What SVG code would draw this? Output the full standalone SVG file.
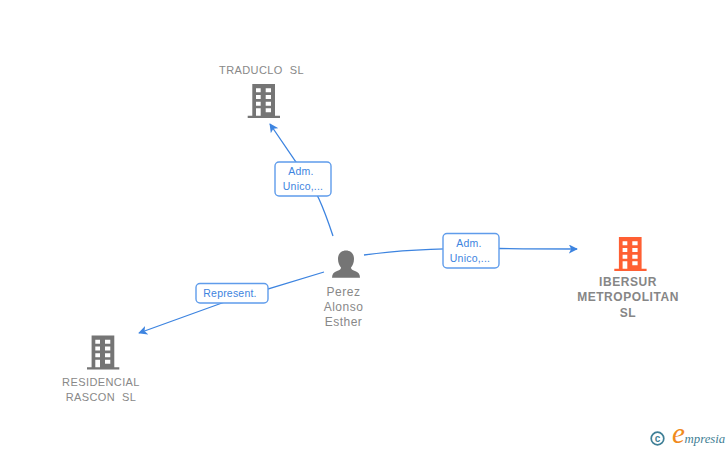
<svg xmlns="http://www.w3.org/2000/svg" width="728" height="450" viewBox="0 0 728 450">
<style>
text{font-family:"Liberation Sans",Arial,sans-serif}
.n{font-size:11px;fill:#888;text-anchor:middle;letter-spacing:.4px;white-space:pre}
.nb{font-size:12px;font-weight:bold;fill:#868686;text-anchor:middle;letter-spacing:.55px}
.p{font-size:12px;fill:#888;text-anchor:middle;letter-spacing:.5px}
.l{font-size:10.500px;fill:#3d84e0;text-anchor:middle;letter-spacing:.2px}
.e{fill:none;stroke:#3d84e0;stroke-width:1.300}
.b{fill:#fff;stroke:#5f9ceb;stroke-width:1.400}
.lg{font-family:"Liberation Serif",serif;font-style:italic}
</style>
<defs>
<marker id="a" viewBox="0 0 10 10" refX="9" refY="5" markerWidth="9" markerHeight="9" markerUnits="userSpaceOnUse" orient="auto"><path d="M0 0L10 5L0 10L2.500 5Z" fill="#3d84e0"/></marker>
<path id="bld" fill-rule="evenodd" d="M4.600 0H27.300V31.700H32.300V34H0V31.700H4.600ZM8.300 4.300V8.300H13V4.300ZM18 4.300V8.300H23.300V4.300ZM8.300 11V15H13V11ZM18 11V15H23.300V11ZM8.300 17.700V21.700H13V17.700ZM18 17.700V21.700H23.300V17.700ZM8.300 24.300V31.700H13V24.300ZM18 24.300V28.300H23.300V24.300Z"/>
</defs>
<rect width="728" height="450" fill="#fff"/>
<g id="connectors">
<path class="e" d="M333 236C325 212 316 186 296 162L270 124" marker-end="url(#a)"/>
<path class="e" d="M364 255C400 250 440 247.500 499 248.500C530 249 555 249 577 249" marker-end="url(#a)"/>
<path class="e" d="M324 272L222 303L139 333" marker-end="url(#a)"/>
</g>
<g id="edge-label-1"><rect class="b" x="275" y="162" width="56" height="34" rx="4"/><text class="l" x="301" y="175">Adm.</text><text class="l" x="303" y="190">Unico,...</text></g>
<g id="edge-label-2"><rect class="b" x="443" y="233.500" width="56" height="34.500" rx="4"/><text class="l" x="469" y="247">Adm.</text><text class="l" x="470" y="262">Unico,...</text></g>
<g id="edge-label-3"><rect class="b" x="196" y="283.500" width="72" height="19.500" rx="4"/><text class="l" x="230" y="297">Represent.</text></g>
<g id="traduclo"><text class="n" x="261.500" y="74">TRADUCLO  SL</text><use href="#bld" x="247.700" y="84" fill="#757575"/></g>
<g id="ibersur"><use href="#bld" x="614.300" y="237" fill="#ff5f33"/><text class="nb" x="628" y="286">IBERSUR</text><text class="nb" x="628" y="301">METROPOLITAN</text><text class="nb" x="628" y="317">SL</text></g>
<g id="residencial"><use href="#bld" x="87" y="335.500" fill="#757575"/><text class="n" x="101" y="386">RESIDENCIAL</text><text class="n" x="101" y="401">RASCON  SL</text></g>
<g id="perez"><path fill="#757575" d="M346 250.500C351 250.500 354 254 354 259C354 263 352.500 265.500 351 267.500C351 269 352 270 355 271C358 272 360 274 360 277.700H332C332 274 334 272 337 271C340 270 341 269 341 267.500C339.500 265.500 338 263 338 259C338 254 341 250.500 346 250.500Z"/><text class="p" x="343.500" y="296">Perez</text><text class="p" x="343.500" y="311">Alonso</text><text class="p" x="343.500" y="326">Esther</text></g>
<g id="logo"><circle cx="657.500" cy="438.500" r="6.300" fill="none" stroke="#3f7f96" stroke-width="1.700"/><text x="657.500" y="442" font-size="10" font-weight="bold" fill="#3f7f96" text-anchor="middle">c</text><text class="lg" x="672" y="443" font-size="29" fill="#f08a1d">e</text><text class="lg" x="684.500" y="443" font-size="12.800" fill="#3f8095">mpresia</text></g>
</svg>
